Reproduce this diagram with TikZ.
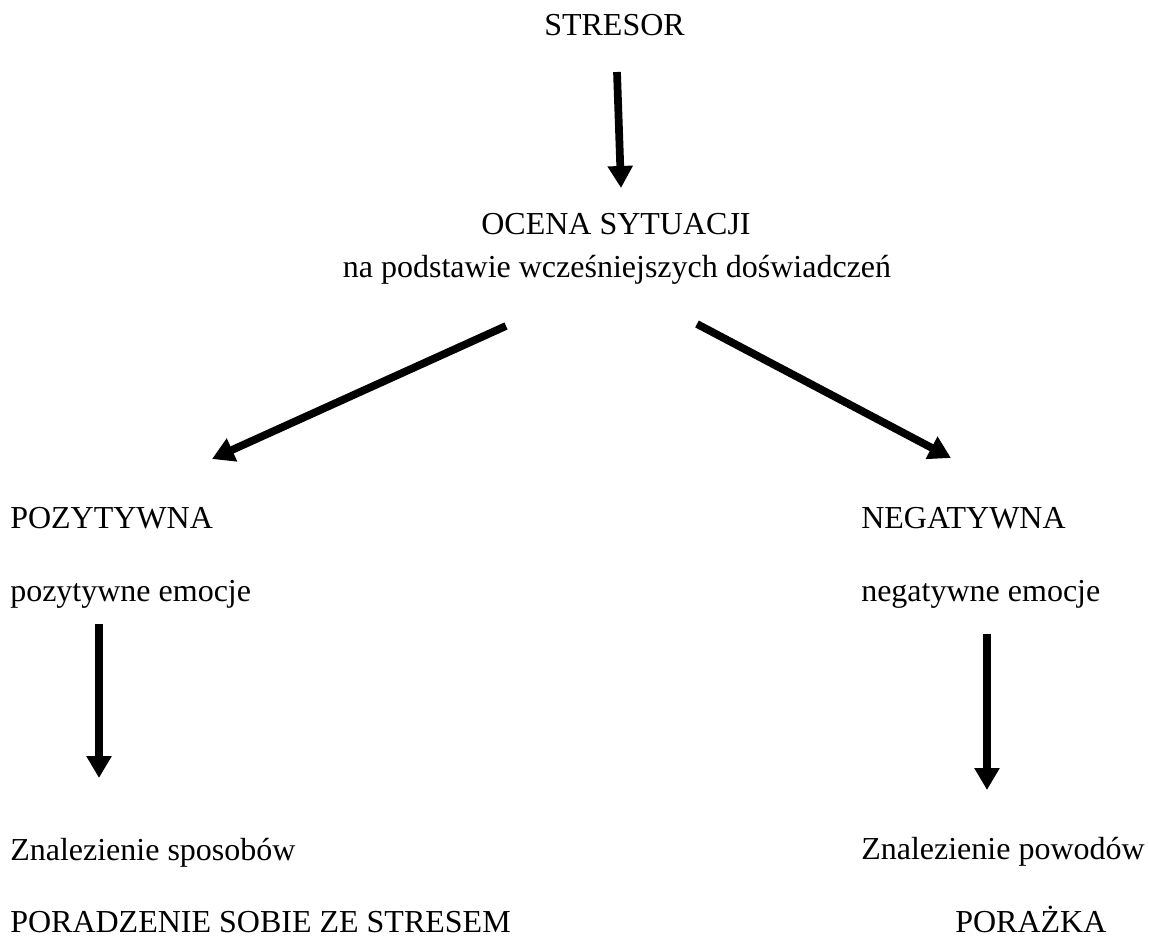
\documentclass[tikz,border=0pt]{standalone}
\usepackage{fontspec}
\setmainfont{Liberation Serif}
\usetikzlibrary{arrows.meta}

\tikzstyle{etykieta} = [inner sep=0pt, text depth=0pt, font=\fontsize{24pt}{28.8pt}\selectfont]
\tikzstyle{strzalka} = [line width=5.8pt, -{Triangle[length=16.5pt,width=18pt]}]

\begin{document}
\begin{tikzpicture}[x=0.75pt,y=-0.75pt]
	\useasboundingbox (0,0) rectangle (1149,937);
	
	\node[etykieta,anchor=base] (stresor) at (614.5,36) {STRESOR};
	\node[etykieta,anchor=base] (ocena) at (616,235) {OCENA SYTUACJI};
	\node[etykieta,anchor=base] (podstawa) at (617,278) {na podstawie wcześniejszych doświadczeń};
	
	\node[etykieta,anchor=base west] (pozytywna) at (10,528) {POZYTYWNA};
	\node[etykieta,anchor=base west] (pozemocje) at (10,601) {pozytywne emocje};
	\node[etykieta,anchor=base west] (sposoby) at (10,860) {Znalezienie sposobów};
	\node[etykieta,anchor=base west] (poradzenie) at (10,932) {PORADZENIE SOBIE ZE STRESEM};
	
	\node[etykieta,anchor=base west] (negatywna) at (861,528) {NEGATYWNA};
	\node[etykieta,anchor=base west] (negemocje) at (861,601) {negatywne emocje};
	\node[etykieta,anchor=base west] (powody) at (861,859) {Znalezienie powodów};
	\node[etykieta,anchor=base west] (porazka) at (955,932) {PORAŻKA};
	
	\coordinate (s1) at (617,72);
	\coordinate (s2) at (621,188);
	\coordinate (l1) at (506,326);
	\coordinate (l2) at (212,459);
	\coordinate (p1) at (697,324);
	\coordinate (p2) at (951,458);
	\coordinate (lp1) at (99,624);
	\coordinate (lp2) at (99,778);
	\coordinate (pp1) at (987,634);
	\coordinate (pp2) at (987,790);
	
	\draw[strzalka] (s1) -- (s2);
	\draw[strzalka] (l1) -- (l2);
	\draw[strzalka] (p1) -- (p2);
	\draw[strzalka] (lp1) -- (lp2);
	\draw[strzalka] (pp1) -- (pp2);
\end{tikzpicture}
\end{document}
